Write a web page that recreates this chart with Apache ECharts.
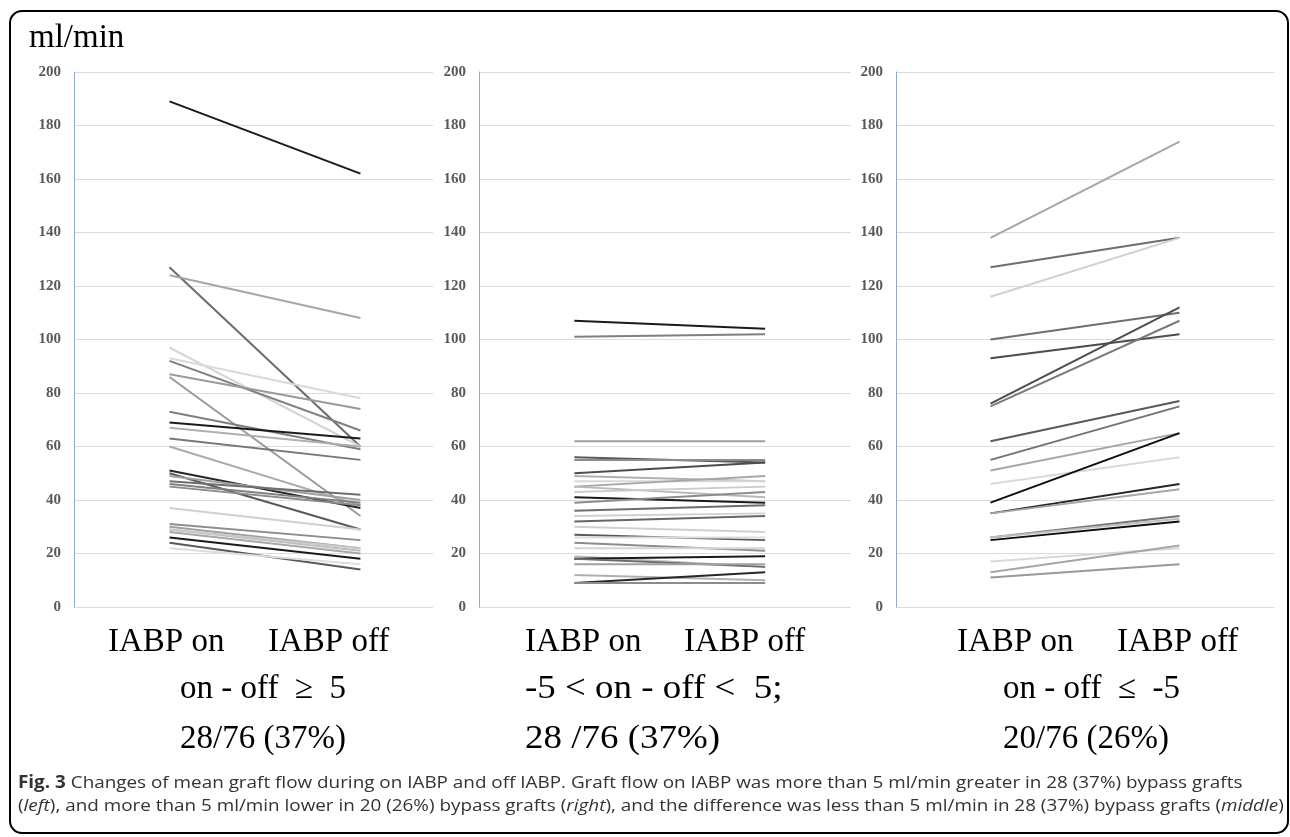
<!DOCTYPE html>
<html>
<head>
<meta charset="utf-8">
<title>Graft flow on / off IABP</title>
<script src="https://cdn.jsdelivr.net/npm/echarts@6/dist/echarts.min.js"></script>
<style>
  html, body { margin: 0; padding: 0; background: #fff; }
  #chart { width: 1290px; height: 837px; }
</style>
</head>
<body>
<div id="chart"></div>
<script>
// two time points per graft
const phases = ['IABP on', 'IABP off'];

// left panel: on - off >= 5
const leftOn  = [189, 127, 124, 97, 93, 92, 87, 86, 73, 69, 67, 63, 60, 51, 50, 49, 47, 46, 45, 37, 31, 30, 29, 29, 28, 26, 24, 22];
const leftOff = [162, 60, 108, 60, 78, 66, 74, 34, 59, 63, 60, 55, 38, 37, 29, 40, 42, 39, 38, 29, 25, 22, 21, 22, 20, 18, 14, 16];

// middle panel: -5 < on - off < 5
const midOn  = [107, 101, 62, 56, 55, 50, 49, 47, 45, 45, 43, 41, 39, 36, 34, 32, 30, 27, 26, 24, 22, 19, 18, 18, 16, 12, 9, 9];
const midOff = [104, 102, 62, 54, 55, 54, 47, 47, 49, 41, 45, 39, 43, 38, 35, 34, 28, 25, 26, 21, 22, 15, 19, 15, 16, 10, 13, 9];

// right panel: on - off <= -5
const rightOn  = [138, 127, 116, 100, 93, 76, 75, 62, 55, 51, 46, 39, 35, 35, 26, 26, 25, 17, 13, 11];
const rightOff = [174, 138, 138, 110, 102, 112, 107, 77, 75, 65, 56, 65, 46, 44, 34, 33, 32, 22, 23, 16];

const yTicks = [0, 20, 40, 60, 80, 100, 120, 140, 160, 180, 200];

const groupLabels = ['on - off  \u2265  5', '-5 < on - off <  5;', 'on - off  \u2264  -5'];
const groupCounts = ['28/76 (37%)', '28 /76 (37%)', '20/76 (26%)'];

// grey shade of each line (style only)
const leftShade = ['#1a1a1a','#6b6b6b','#a6a6a6','#d4d4d4','#d9d9d9','#7f7f7f','#9a9a9a','#999999','#7f7f7f','#1a1a1a','#b0b0b0','#777777','#aaaaaa','#262626','#595959','#a0a0a0','#6e6e6e','#808080','#8c8c8c','#d0d0d0','#8c8c8c','#a0a0a0','#bfbfbf','#c8c8c8','#a8a8a8','#1a1a1a','#595959','#dddddd'];
const midShade = ['#1a1a1a','#7f7f7f','#a0a0a0','#595959','#8c8c8c','#4d4d4d','#b0b0b0','#d9d9d9','#a6a6a6','#b8b8b8','#cccccc','#1a1a1a','#8c8c8c','#6e6e6e','#d0d0d0','#666666','#d0d0d0','#595959','#dddddd','#8c8c8c','#d4d4d4','#c0c0c0','#1a1a1a','#6b6b6b','#a0a0a0','#b0b0b0','#262626','#8c8c8c'];
const rightShade = ['#a6a6a6','#6e6e6e','#d0d0d0','#6e6e6e','#4d4d4d','#4d4d4d','#7a7a7a','#595959','#737373','#a6a6a6','#d9d9d9','#0d0d0d','#262626','#a6a6a6','#737373','#bfbfbf','#0d0d0d','#d9d9d9','#a6a6a6','#999999'];

const panels = [
  { on: leftOn, off: leftOff, shade: leftShade },
  { on: midOn, off: midOff, shade: midShade },
  { on: rightOn, off: rightOff, shade: rightShade }
];

const chart = echarts.init(document.getElementById('chart'));

const grids = [
  { left: 74, top: 72, width: 359, height: 535 },
  { left: 479, top: 72, width: 372, height: 535 },
  { left: 896, top: 72, width: 378, height: 535 }
];
const xMax = [2.38, 2.45, 2.5];

const serif = '"Liberation Serif", "Times New Roman", serif';

const series = [];
panels.forEach((p, gi) => {
  p.on.forEach((v, i) => {
    series.push({
      type: 'line',
      xAxisIndex: gi,
      yAxisIndex: gi,
      data: [[1, v], [2, p.off[i]]],
      symbol: 'none',
      silent: true,
      lineStyle: { color: p.shade[i], width: 2 }
    });
  });
});

const graphic = [
  {
    type: 'rect',
    shape: { x: 10, y: 11, width: 1278, height: 822, r: 12 },
    style: { fill: null, stroke: '#000', lineWidth: 2 },
    silent: true
  },
  {
    type: 'text', left: 29, top: 22,
    style: { text: 'ml/min', font: '33px ' + serif, fill: '#000' }
  }
];

// label positions under each panel
const onX = [108, 525, 957];
const offX = [268, 684, 1117];
const groupX = [180, 525, 1003];
// the middle panel's lower text runs a little wider in the figure
const groupStretch = [1, 1.12, 1];
groupLabels.forEach((g, i) => {
  graphic.push({ type: 'text', x: onX[i], y: 642, style: { text: phases[0], font: '33px ' + serif, fill: '#000', verticalAlign: 'middle' } });
  graphic.push({ type: 'text', x: offX[i], y: 642, style: { text: phases[1], font: '33px ' + serif, fill: '#000', verticalAlign: 'middle' } });
  graphic.push({ type: 'text', x: groupX[i], y: 689, scaleX: groupStretch[i], style: { text: g, font: '33px ' + serif, fill: '#000', verticalAlign: 'middle' } });
  graphic.push({ type: 'text', x: groupX[i], y: 739, scaleX: groupStretch[i], style: { text: groupCounts[i], font: '33px ' + serif, fill: '#000', verticalAlign: 'middle' } });
});

const capFont = '"Open Sans", "Noto Sans", sans-serif';
graphic.push({
  type: 'text', x: 18, y: 783, scaleX: 1.11,
  style: {
    text: '{b|Fig. 3} Changes of mean graft flow during on IABP and off IABP. Graft flow on IABP was more than 5 ml/min greater in 28 (37%) bypass grafts',
    font: '17px ' + capFont, fill: '#333', verticalAlign: 'middle',
    rich: { b: { fontWeight: 'bold', fontSize: 17, fontFamily: capFont, fill: '#333' } }
  }
});
graphic.push({
  type: 'text', x: 18, y: 806, scaleX: 1.11,
  style: {
    text: '({i|left}), and more than 5 ml/min lower in 20 (26%) bypass grafts ({i|right}), and the difference was less than 5 ml/min in 28 (37%) bypass grafts ({i|middle})',
    font: '17px ' + capFont, fill: '#333', verticalAlign: 'middle',
    rich: { i: { fontStyle: 'italic', fontSize: 17, fontFamily: capFont, fill: '#333' } }
  }
});

const option = {
  backgroundColor: '#fff',
  animation: false,
  grid: grids,
  xAxis: grids.map((g, i) => ({
    type: 'value',
    gridIndex: i,
    min: 0.5,
    max: xMax[i],
    show: false
  })),
  yAxis: grids.map((g, i) => ({
    type: 'value',
    gridIndex: i,
    min: yTicks[0],
    max: yTicks[yTicks.length - 1],
    interval: yTicks[1] - yTicks[0],
    axisLine: { show: true, lineStyle: { color: '#8eaadb', width: 1 } },
    axisTick: { show: false },
    axisLabel: {
      color: '#595959',
      fontFamily: serif,
      fontWeight: 'bold',
      fontSize: 15,
      margin: 13
    },
    splitLine: { lineStyle: { color: '#dcdcdc', width: 1 } }
  })),
  series: series,
  graphic: graphic
};

chart.setOption(option);
</script>
</body>
</html>
